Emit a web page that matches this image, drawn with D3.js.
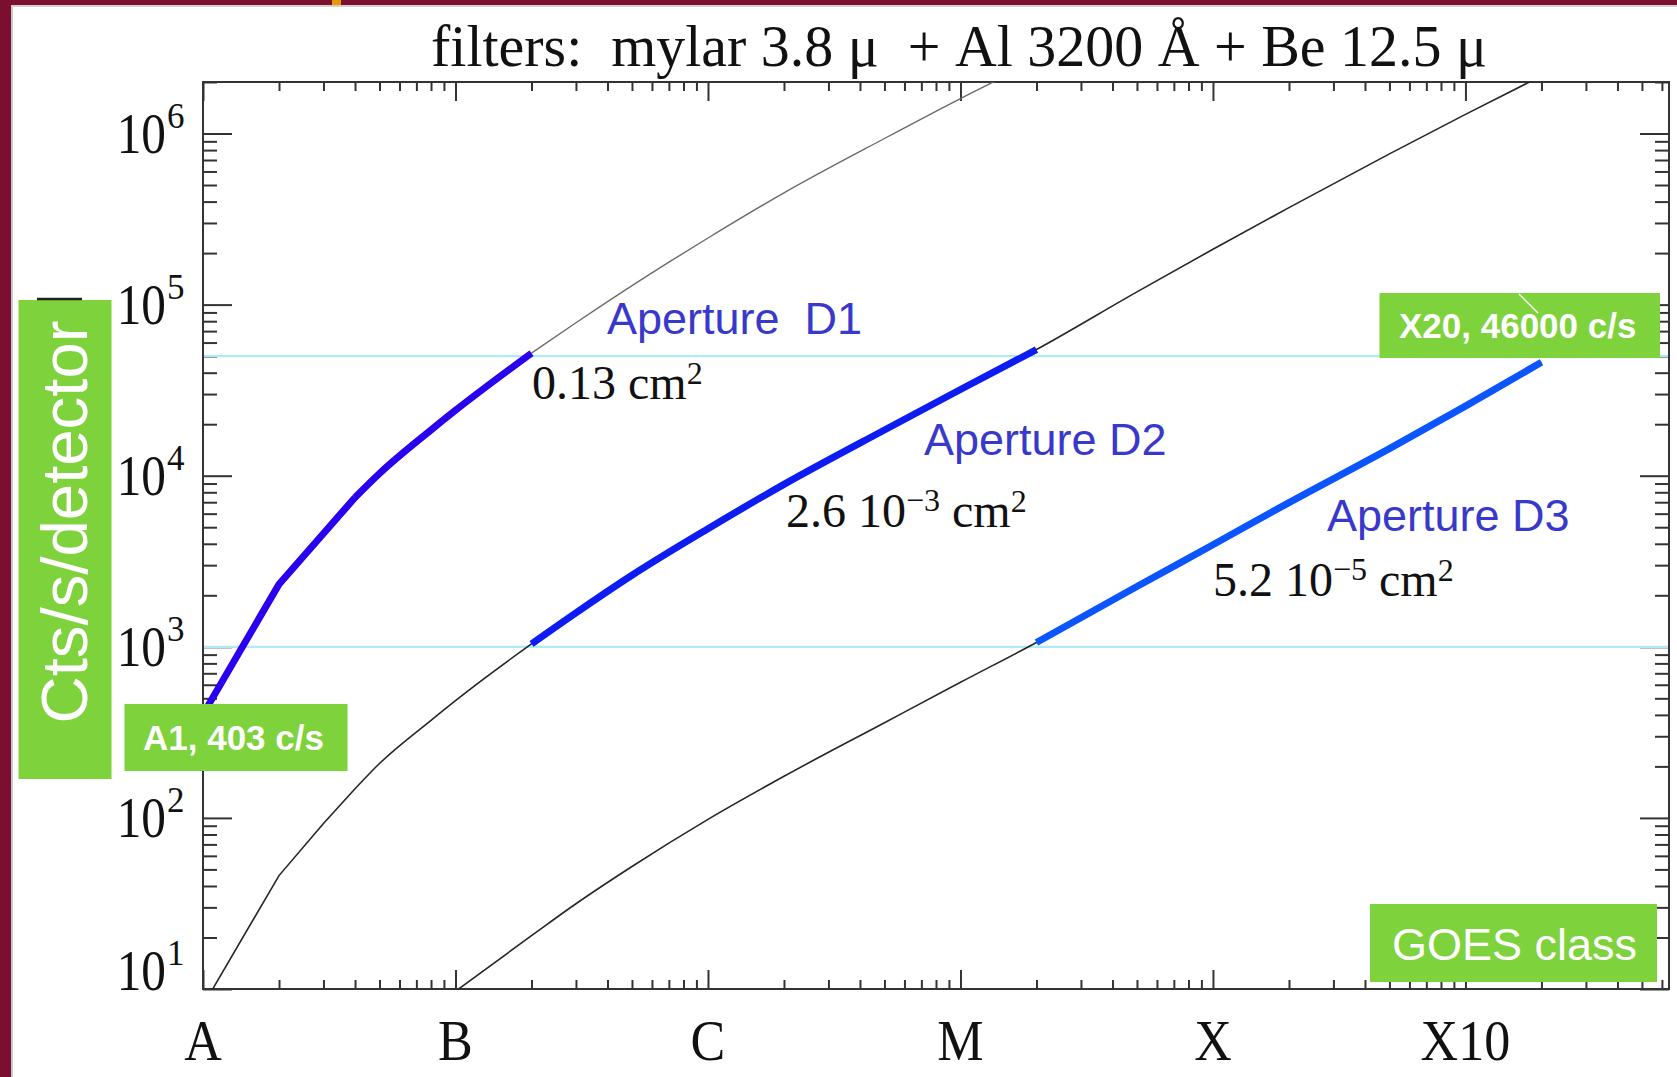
<!DOCTYPE html>
<html>
<head>
<meta charset="utf-8">
<script src="https://cdn.jsdelivr.net/npm/d3@7"></script>
<style>
  html, body { margin: 0; padding: 0; background: #fff; }
  svg { display: block; }
  text { white-space: pre; }
</style>
</head>
<body>
<svg id="chart" width="1677" height="1077"></svg>
<script>
// GOES 1-8 Å flux (W/m²) and the count rate per detector for each aperture
const fluxD1   = [1e-8, 2e-8, 4e-8, 5e-8, 8e-8, 1e-7, 2e-7, 3e-7, 7e-7, 1e-6, 2e-6, 5e-6, 1e-5, 2e-5];
const countsD1 = [403, 2320, 7460, 10300, 18500, 24100, 52000, 78300, 177000, 245000, 450000, 935000, 1600000, 2670000];

const fluxD2   = [1e-8, 2e-8, 3e-8, 4e-8, 5e-8, 8e-8, 1e-7, 2e-7, 3e-7, 5e-7, 1e-6, 2e-6, 5e-6, 1e-5, 2e-5, 5e-5, 1e-4, 2e-4, 5e-4, 1e-3, 2e-3];
const countsD2 = [8.0, 46, 92.7, 148, 208, 372, 485, 1040, 1580, 2620, 4900, 8900, 18500, 31900, 54600, 118700, 210600, 369000, 760000, 1293000, 2170000];

const fluxD3   = [1e-7, 2e-7, 3e-7, 5e-7, 1e-6, 2e-6, 5e-6, 1e-5, 2e-5, 5e-5, 1e-4, 2e-4, 5e-4, 1e-3, 2e-3];
const countsD3 = [9.7, 20.5, 31.5, 52, 98, 175, 360, 620, 1060, 2250, 3950, 6960, 14400, 25500, 46000];

// flux range over which each aperture is used
const bandD1 = [1e-8, 2e-7];
const bandD2 = [2e-7, 2e-5];
const bandD3 = [2e-5, 2e-3];

// count-rate limits drawn as horizontal guides
const thresholds = [1e3, 5e4];

// axis labels
const classNames = ["A", "B", "C", "M", "X", "X10"];
const classFlux  = [1e-8, 1e-7, 1e-6, 1e-5, 1e-4, 1e-3];
const decadeExps = [1, 2, 3, 4, 5, 6];

const svg = d3.select("#chart");
const W = 1677, H = 1077;
const plot = { left: 203, right: 1669, top: 82, bottom: 989 };

const serif = "'Liberation Serif', 'Times New Roman', serif";
const sans  = "'Liberation Sans', Arial, sans-serif";
const green = "#7ed23c";

// slide frame
svg.append("rect").attr("x", 0).attr("y", 0).attr("width", W).attr("height", H).attr("fill", "#fff");
svg.append("rect").attr("x", 11).attr("y", 5).attr("width", 2).attr("height", H).attr("fill", "#c9c9c9");
svg.append("rect").attr("x", 11).attr("y", 5).attr("width", W).attr("height", 2).attr("fill", "#d0d0d0");
svg.append("rect").attr("x", 0).attr("y", 0).attr("width", W).attr("height", 5).attr("fill", "#7a0f2f");
svg.append("rect").attr("x", 0).attr("y", 0).attr("width", 11).attr("height", H).attr("fill", "#7a0f2f");
svg.append("rect").attr("x", 332).attr("y", 0).attr("width", 9).attr("height", 5).attr("fill", "#e59a00");

const x = d3.scaleLog().domain([1e-8, 6.4e-3]).range([plot.left, plot.right]);
const y = d3.scaleLog().domain([10, 2e6]).range([plot.bottom, plot.top]);

// minor tick values (2..9 × each decade) inside the domains
function minorTicks(scale) {
  const [lo, hi] = scale.domain();
  const out = [];
  for (let e = Math.floor(Math.log10(lo)); e <= Math.ceil(Math.log10(hi)); e++) {
    for (let m = 2; m <= 9; m++) {
      const v = m * Math.pow(10, e);
      if (v > lo * 1.0001 && v <= hi * 1.0001) out.push(v);
    }
  }
  return out;
}
const xMinor = minorTicks(x);
const yMajor = decadeExps.map(e => Math.pow(10, e));
const yMinor = minorTicks(y);

function styleAxis(g) {
  g.select(".domain").remove();
  g.selectAll("line").attr("stroke", "#333").attr("stroke-width", 2);
}

const axes = svg.append("g");
// bottom / top: ticks pointing inward
axes.append("g").attr("transform", `translate(0,${plot.bottom})`)
  .call(d3.axisBottom(x).tickValues(classFlux).tickSizeInner(-19).tickSizeOuter(0).tickFormat("")).call(styleAxis);
axes.append("g").attr("transform", `translate(0,${plot.bottom})`)
  .call(d3.axisBottom(x).tickValues(xMinor).tickSizeInner(-9).tickSizeOuter(0).tickFormat("")).call(styleAxis);
axes.append("g").attr("transform", `translate(0,${plot.top})`)
  .call(d3.axisTop(x).tickValues(classFlux).tickSizeInner(-19).tickSizeOuter(0).tickFormat("")).call(styleAxis);
axes.append("g").attr("transform", `translate(0,${plot.top})`)
  .call(d3.axisTop(x).tickValues(xMinor).tickSizeInner(-9).tickSizeOuter(0).tickFormat("")).call(styleAxis);
// left / right
axes.append("g").attr("transform", `translate(${plot.left},0)`)
  .call(d3.axisLeft(y).tickValues(yMajor).tickSizeInner(-29).tickSizeOuter(0).tickFormat("")).call(styleAxis);
axes.append("g").attr("transform", `translate(${plot.left},0)`)
  .call(d3.axisLeft(y).tickValues(yMinor).tickSizeInner(-14).tickSizeOuter(0).tickFormat("")).call(styleAxis);
axes.append("g").attr("transform", `translate(${plot.right},0)`)
  .call(d3.axisRight(y).tickValues(yMajor).tickSizeInner(-29).tickSizeOuter(0).tickFormat("")).call(styleAxis);
axes.append("g").attr("transform", `translate(${plot.right},0)`)
  .call(d3.axisRight(y).tickValues(yMinor).tickSizeInner(-14).tickSizeOuter(0).tickFormat("")).call(styleAxis);

svg.append("rect")
  .attr("x", plot.left).attr("y", plot.top)
  .attr("width", plot.right - plot.left).attr("height", plot.bottom - plot.top)
  .attr("fill", "none").attr("stroke", "#333").attr("stroke-width", 2);

// y tick labels: 10^n
const yLab = svg.append("g");
decadeExps.forEach(e => {
  const ty = y(Math.pow(10, e));
  const base = Math.min(ty + 19, plot.bottom + 1);
  yLab.append("text")
    .attr("transform", `translate(166,${base}) scale(0.88,1)`)
    .attr("text-anchor", "end")
    .attr("font-family", serif).attr("font-size", 56).attr("fill", "#111")
    .text("10");
  yLab.append("text")
    .attr("x", 167).attr("y", base - 25)
    .attr("font-family", serif).attr("font-size", 35).attr("fill", "#111")
    .text(String(e));
});

// x tick labels: GOES classes
svg.append("g").selectAll("text").data(classNames).join("text")
  .attr("transform", (d, i) => `translate(${x(classFlux[i])},1060) scale(0.93,1)`)
  .attr("text-anchor", "middle")
  .attr("font-family", serif).attr("font-size", 56).attr("fill", "#111")
  .text(d => d);

// title
svg.append("text")
  .attr("x", 431).attr("y", 66)
  .attr("font-family", serif).attr("font-size", 60).attr("fill", "#111")
  .attr("textLength", 1056).attr("lengthAdjust", "spacingAndGlyphs")
  .text("filters:  mylar 3.8 \u03bc  + Al 3200 \u00c5 + Be 12.5 \u03bc");

// plotting area
svg.append("clipPath").attr("id", "plotClip")
  .append("rect").attr("x", plot.left).attr("y", plot.top)
  .attr("width", plot.right - plot.left).attr("height", plot.bottom - plot.top);
const area = svg.append("g").attr("clip-path", "url(#plotClip)");

area.selectAll("line.threshold").data(thresholds).join("line")
  .attr("class", "threshold")
  .attr("x1", plot.left + 1).attr("x2", plot.right - 1)
  .attr("y1", d => y(d)).attr("y2", d => y(d))
  .attr("stroke", "#b0e9f8").attr("stroke-width", 2.2);

// the response is piecewise below 4e-8 W/m² and smooth above it
const kinkFlux = 4e-8;
const lineLin  = d3.line().x(d => x(d[0])).y(d => y(d[1]));
const lineMono = d3.line().x(d => x(d[0])).y(d => y(d[1])).curve(d3.curveMonotoneX);
function curvePath(pts) {
  const lo = pts.filter(d => d[0] <= kinkFlux * 1.001);
  const hi = pts.filter(d => d[0] >= kinkFlux * 0.999);
  return (lo.length > 1 ? lineLin(lo) : "") + (hi.length > 1 ? lineMono(hi) : "");
}
const pairs = (fl, ct) => fl.map((f, i) => [f, ct[i]]);
const inBand = (pts, b) => pts.filter(d => d[0] >= b[0] * 0.999 && d[0] <= b[1] * 1.001);

const ptsD1 = pairs(fluxD1, countsD1);
const ptsD2 = pairs(fluxD2, countsD2);
const ptsD3 = pairs(fluxD3, countsD3);

// full response curves (thin)
area.append("path").attr("d", curvePath(ptsD1.filter(d => d[0] >= bandD1[1] * 0.999)))
  .attr("fill", "none").attr("stroke", "#6b6b6b").attr("stroke-width", 1.4);
area.append("path").attr("d", curvePath(ptsD2))
  .attr("fill", "none").attr("stroke", "#262626").attr("stroke-width", 1.6);
area.append("path").attr("d", curvePath(ptsD3))
  .attr("fill", "none").attr("stroke", "#262626").attr("stroke-width", 1.6);

// operating range of each aperture (thick)
const bands = [
  { pts: inBand(ptsD1, bandD1), color: "#2a00ee" },
  { pts: inBand(ptsD2, bandD2), color: "#0d1cf2" },
  { pts: inBand(ptsD3, bandD3), color: "#0a55ff" }
];
bands.forEach(b => {
  area.append("path").attr("d", curvePath(b.pts))
    .attr("fill", "none").attr("stroke", b.color)
    .attr("stroke-width", 7).attr("stroke-linejoin", "round");
});

// aperture annotations
const apColor = "#3838cc";
function apLabel(txt, px, py) {
  svg.append("text").attr("x", px).attr("y", py)
    .attr("font-family", sans).attr("font-size", 45).attr("fill", apColor).text(txt);
}
apLabel("Aperture  D1", 607, 334);
apLabel("Aperture D2", 924, 455);
apLabel("Aperture D3", 1327, 531);

function areaLabel(px, py, mant, exp) {
  const t = svg.append("text").attr("x", px).attr("y", py)
    .attr("font-family", serif).attr("font-size", 48).attr("fill", "#111");
  t.append("tspan").text(mant);
  if (exp) {
    t.append("tspan").attr("dy", -16).attr("font-size", 32).text(exp);
    t.append("tspan").attr("dy", 16).attr("font-size", 48).text(" cm");
  } else {
    t.append("tspan").text(" cm");
  }
  t.append("tspan").attr("dy", -15).attr("font-size", 32).text("2");
}
areaLabel(532, 399, "0.13", null);
areaLabel(786, 527, "2.6 10", "\u22123");
areaLabel(1213, 596, "5.2 10", "\u22125");

// callout boxes
function box(bx, by, bw, bh) {
  return svg.append("rect").attr("x", bx).attr("y", by).attr("width", bw).attr("height", bh).attr("fill", green);
}
box(18.5, 300, 93, 479);
svg.append("line").attr("x1", 37).attr("x2", 82).attr("y1", 299).attr("y2", 299)
  .attr("stroke", "#222").attr("stroke-width", 2.5);
svg.append("text")
  .attr("transform", "translate(87,522) rotate(-90)")
  .attr("text-anchor", "middle")
  .attr("font-family", sans).attr("font-size", 64).attr("fill", "#fff")
  .attr("textLength", 403).attr("lengthAdjust", "spacingAndGlyphs")
  .text("Cts/s/detector");

box(124.5, 704, 223, 67);
svg.append("text").attr("x", 143).attr("y", 750)
  .attr("font-family", sans).attr("font-size", 35).attr("font-weight", "bold").attr("fill", "#fff")
  .text("A1, 403 c/s");

box(1379.5, 293, 280.5, 65);
svg.append("text").attr("x", 1399).attr("y", 338)
  .attr("font-family", sans).attr("font-size", 35).attr("font-weight", "bold").attr("fill", "#fff")
  .text("X20, 46000 c/s");
svg.append("line").attr("x1", 1519).attr("y1", 294).attr("x2", 1538).attr("y2", 313)
  .attr("stroke", "#fff").attr("stroke-width", 1.4);

box(1370, 904, 287, 78);
svg.append("text").attr("x", 1392).attr("y", 960)
  .attr("font-family", sans).attr("font-size", 45).attr("fill", "#fff")
  .text("GOES class");
</script>
</body>
</html>
